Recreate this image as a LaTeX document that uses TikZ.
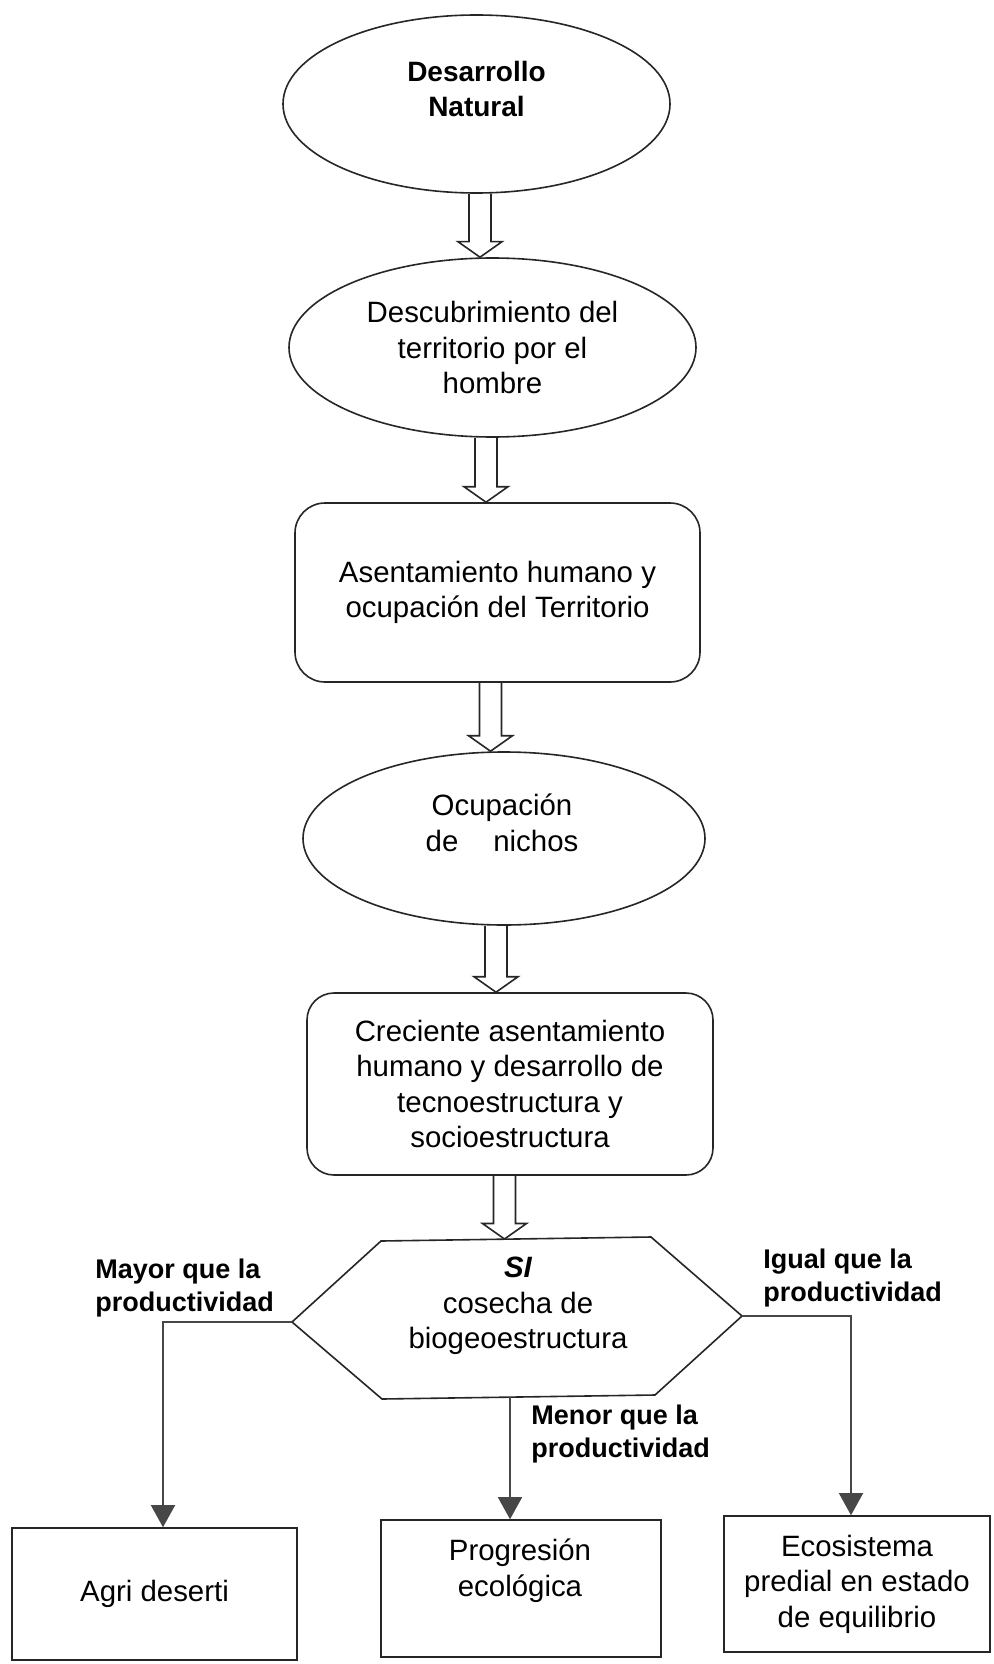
\documentclass[tikz,border=0pt]{standalone}
\usepackage{fontspec}
\setmainfont{Liberation Sans}
\usetikzlibrary{shapes.geometric,arrows.meta,calc}
\begin{document}
\begin{tikzpicture}[x=0.5pt,y=-0.5pt,
  outl/.style={draw=black!85, line width=0.8pt, inner sep=0pt},
  ell/.style={outl, ellipse},
  rbox/.style={outl, rectangle, rounded corners=#1},
  sbox/.style={outl, rectangle},
  txt/.style={font=\fontsize{14.7}{17.8}\selectfont, align=center, inner sep=0pt},
  boldtxt/.style={font=\fontsize{14}{17.5}\selectfont\bfseries, align=center, inner sep=0pt},
  lbl/.style={font=\fontsize{13.5}{16.5}\selectfont\bfseries, align=left, inner sep=0pt, anchor=west},
  hollow/.style={draw=black!85, line width=0.8pt, line join=miter,
    to path={let \p1=(\tikztostart), \p2=(\tikztotarget) in
      (\x1-5.5pt,\y1) -- (\x1-5.5pt,\y2+7.75pt) -- (\x1-11pt,\y2+7.75pt) -- (\x1,\y2)
      -- (\x1+11pt,\y2+7.75pt) -- (\x1+5.5pt,\y2+7.75pt) -- (\x1+5.5pt,\y1)}},
  conn/.style={draw=black!72, line width=0.75pt, -{Triangle[length=11pt,width=12pt]}}
]
\fill[white] (0,0) rectangle (993,1664);
\useasboundingbox (0,0) rectangle (993,1664);

% main chain
\node[ell, minimum width=193.5pt, minimum height=89pt] (e1) at (476.5,104) {};
\node[boldtxt] (e1t) at (476.5,88.5) {Desarrollo\\Natural};

\node[ell, txt, minimum width=203.5pt, minimum height=89.5pt] (e2) at (492.5,347.5)
  {Descubrimiento del\\territorio por el\\hombre};

\node[rbox=15pt, txt, minimum width=202.5pt, minimum height=89.5pt] (b1) at (497.5,592.5)
  {Asentamiento humano y\\ocupación del Territorio};

\node[ell, minimum width=201pt, minimum height=86.5pt] (e3) at (504,838.5) {};
\node[txt] (e3t) at (502,823) {Ocupación\\de\hspace{17.5pt}nichos};

\node[rbox=13.5pt, txt, minimum width=203pt, minimum height=91pt] (b2) at (510,1084)
  {Creciente asentamiento\\humano y desarrollo de\\tecnoestructura y\\socioestructura};

% hexagon
\coordinate (hL) at (292,1322);
\coordinate (hTL) at (381,1241);
\coordinate (hTR) at (651,1237);
\coordinate (hR) at (742,1316);
\coordinate (hBR) at (655,1395);
\coordinate (hBL) at (382,1399);
\draw[outl] (hL) -- (hTL) -- (hTR) -- (hR) -- (hBR) -- (hBL) -- cycle;
\node[txt] (hex) at (518,1306) {{\bfseries\itshape SI}\\cosecha de\\biogeoestructura};
\coordinate (hB) at (510,1397);
\coordinate (hT) at (504.5,1239);

% bottom boxes
\node[sbox, txt, minimum width=142.5pt, minimum height=66pt] (agri) at (154.5,1594) {Agri deserti};
\node[sbox, minimum width=140pt, minimum height=68.5pt] (prog) at (521,1588.5) {};
\node[txt] (progt) at (520,1571) {Progresión\\ecológica};
\node[sbox, txt, minimum width=133pt, minimum height=68pt] (eco) at (857,1584)
  {Ecosistema\\predial en estado\\de equilibrio};

% hollow arrows
\coordinate (v1) at (480,0);
\coordinate (v2) at (486,0);
\coordinate (v3) at (490.5,0);
\coordinate (v4) at (496,0);
\coordinate (v5) at (504.5,0);
\draw[hollow] (v1 |- e1.south) to (v1 |- e2.north);
\draw[hollow] (v2 |- e2.south) to (v2 |- b1.north);
\draw[hollow] (v3 |- b1.south) to (v3 |- e3.north);
\draw[hollow] (v4 |- e3.south) to (v4 |- b2.north);
\draw[hollow] (v5 |- b2.south) to (hT);

% connectors
\coordinate (kL) at (163,0);
\coordinate (kR) at (851,0);
\draw[conn] (hL) -| (kL |- agri.north);
\draw[conn] (hB) -- (hB |- prog.north);
\draw[conn] (hR) -| (kR |- eco.north);

% labels
\node[lbl] (lm) at (95,1288) {Mayor que la\\productividad};
\node[lbl] (li) at (763,1278) {Igual que la\\productividad};
\node[lbl] (ln) at (531,1434) {Menor que la\\productividad};
\end{tikzpicture}
\end{document}
